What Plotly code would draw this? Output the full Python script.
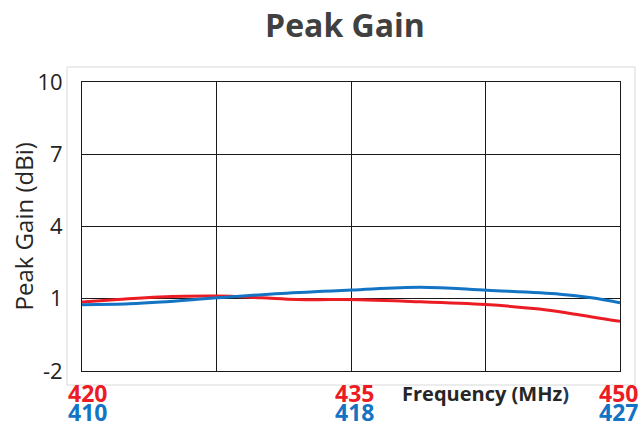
import plotly.graph_objects as go

# Red series: 420-450 MHz band
red_freq = [420, 422, 424.3, 427.5, 430, 432, 435.5, 438, 442.5, 445.5, 447.4, 450]
red_gain = [0.87, 0.97, 1.07, 1.11, 1.04, 0.97, 0.96, 0.9, 0.76, 0.57, 0.37, 0.06]

# Blue series: 410-427 MHz band
blue_freq = [410, 411.5, 412.5, 414.3, 416.3, 418.5, 420.7, 422.8, 425.1, 426.1, 427]
blue_gain = [0.75, 0.79, 0.86, 1.04, 1.22, 1.36, 1.48, 1.35, 1.19, 1.04, 0.83]

red_ticks = [420, 435, 450]
blue_tick_labels = ["410", "418", "427"]
y_ticks = [-2, 1, 4, 7, 10]

RED = "#ec1c24"
BLUE = "#1474c4"
FONT = "Open Sans"

W, H = 644, 427
PW, PH = 538, 289
label_shift = [5, 3, -2]

fig = go.Figure()
fig.add_trace(go.Scatter(x=red_freq, y=red_gain, mode="lines",
                         line=dict(color=RED, width=3, shape="spline", smoothing=1),
                         xaxis="x", yaxis="y", showlegend=False))
fig.add_trace(go.Scatter(x=blue_freq, y=blue_gain, mode="lines",
                         line=dict(color=BLUE, width=3, shape="spline", smoothing=1),
                         xaxis="x2", yaxis="y", showlegend=False))

annotations = []
for v, bl, sh in zip(red_ticks, blue_tick_labels, label_shift):
    annotations.append(dict(x=v, y=(371 - 393) / PH, xref="x", yref="paper", text=f"<b>{v}</b>",
                            showarrow=False, xanchor="center", yanchor="middle", xshift=sh,
                            font=dict(family=FONT, size=23, color=RED)))
    annotations.append(dict(x=v, y=(371 - 412) / PH, xref="x", yref="paper", text=f"<b>{bl}</b>",
                            showarrow=False, xanchor="center", yanchor="middle", xshift=sh,
                            font=dict(family=FONT, size=23, color=BLUE)))
annotations.append(dict(x=442.5, y=(371 - 393) / PH, xref="x", yref="paper",
                        text="<b>Frequency (MHz<span style='color:#1f3864'>)</span></b>",
                        showarrow=False, xanchor="center", yanchor="middle",
                        font=dict(family=FONT, size=20, color="#262626")))
annotations.append(dict(x=(23 - 82) / PW, y=0.5, xref="paper", yref="paper", text="Peak Gain (dBi)",
                        textangle=-90, showarrow=False, xanchor="center", yanchor="middle",
                        font=dict(family=FONT, size=24, color="#262626")))

fig.update_layout(
    width=W, height=H, autosize=False,
    margin=dict(l=82, r=W - 82 - PW, t=82, b=H - 82 - PH),
    paper_bgcolor="white", plot_bgcolor="white",
    title=dict(text="<b>Peak Gain</b>", x=345 / W, xanchor="center",
               y=1 - 26 / H, yanchor="middle", xref="container", yref="container",
               font=dict(family=FONT, size=32, color="#404040")),
    xaxis=dict(range=[420, 450], tickvals=[420, 427.5, 435, 442.5, 450],
               showticklabels=False, showgrid=True, gridcolor="#1a1a1a", gridwidth=1,
               showline=True, linecolor="#1a1a1a", linewidth=1, mirror=True,
               zeroline=False, ticks=""),
    xaxis2=dict(range=[410, 427], overlaying="x", visible=False),
    yaxis=dict(range=[-2, 10], tickvals=y_ticks, ticktext=[str(t) for t in y_ticks],
               showgrid=True, gridcolor="#1a1a1a", gridwidth=1,
               showline=True, linecolor="#1a1a1a", linewidth=1, mirror=True,
               zeroline=False, ticks="", ticklabelstandoff=14,
               tickfont=dict(family=FONT, size=22, color="#222222")),
    annotations=annotations,
    shapes=[dict(type="rect", xref="paper", yref="paper",
                 x0=(67 - 82) / PW, x1=(635 - 82) / PW,
                 y0=(371 - 385) / PH, y1=(371 - 67) / PH,
                 line=dict(color="#d9d9d9", width=1), layer="below")],
)

fig.write_html("out.html", config={"displayModeBar": False},
               post_script="document.body.style.margin='0';document.body.style.overflow='hidden';")
